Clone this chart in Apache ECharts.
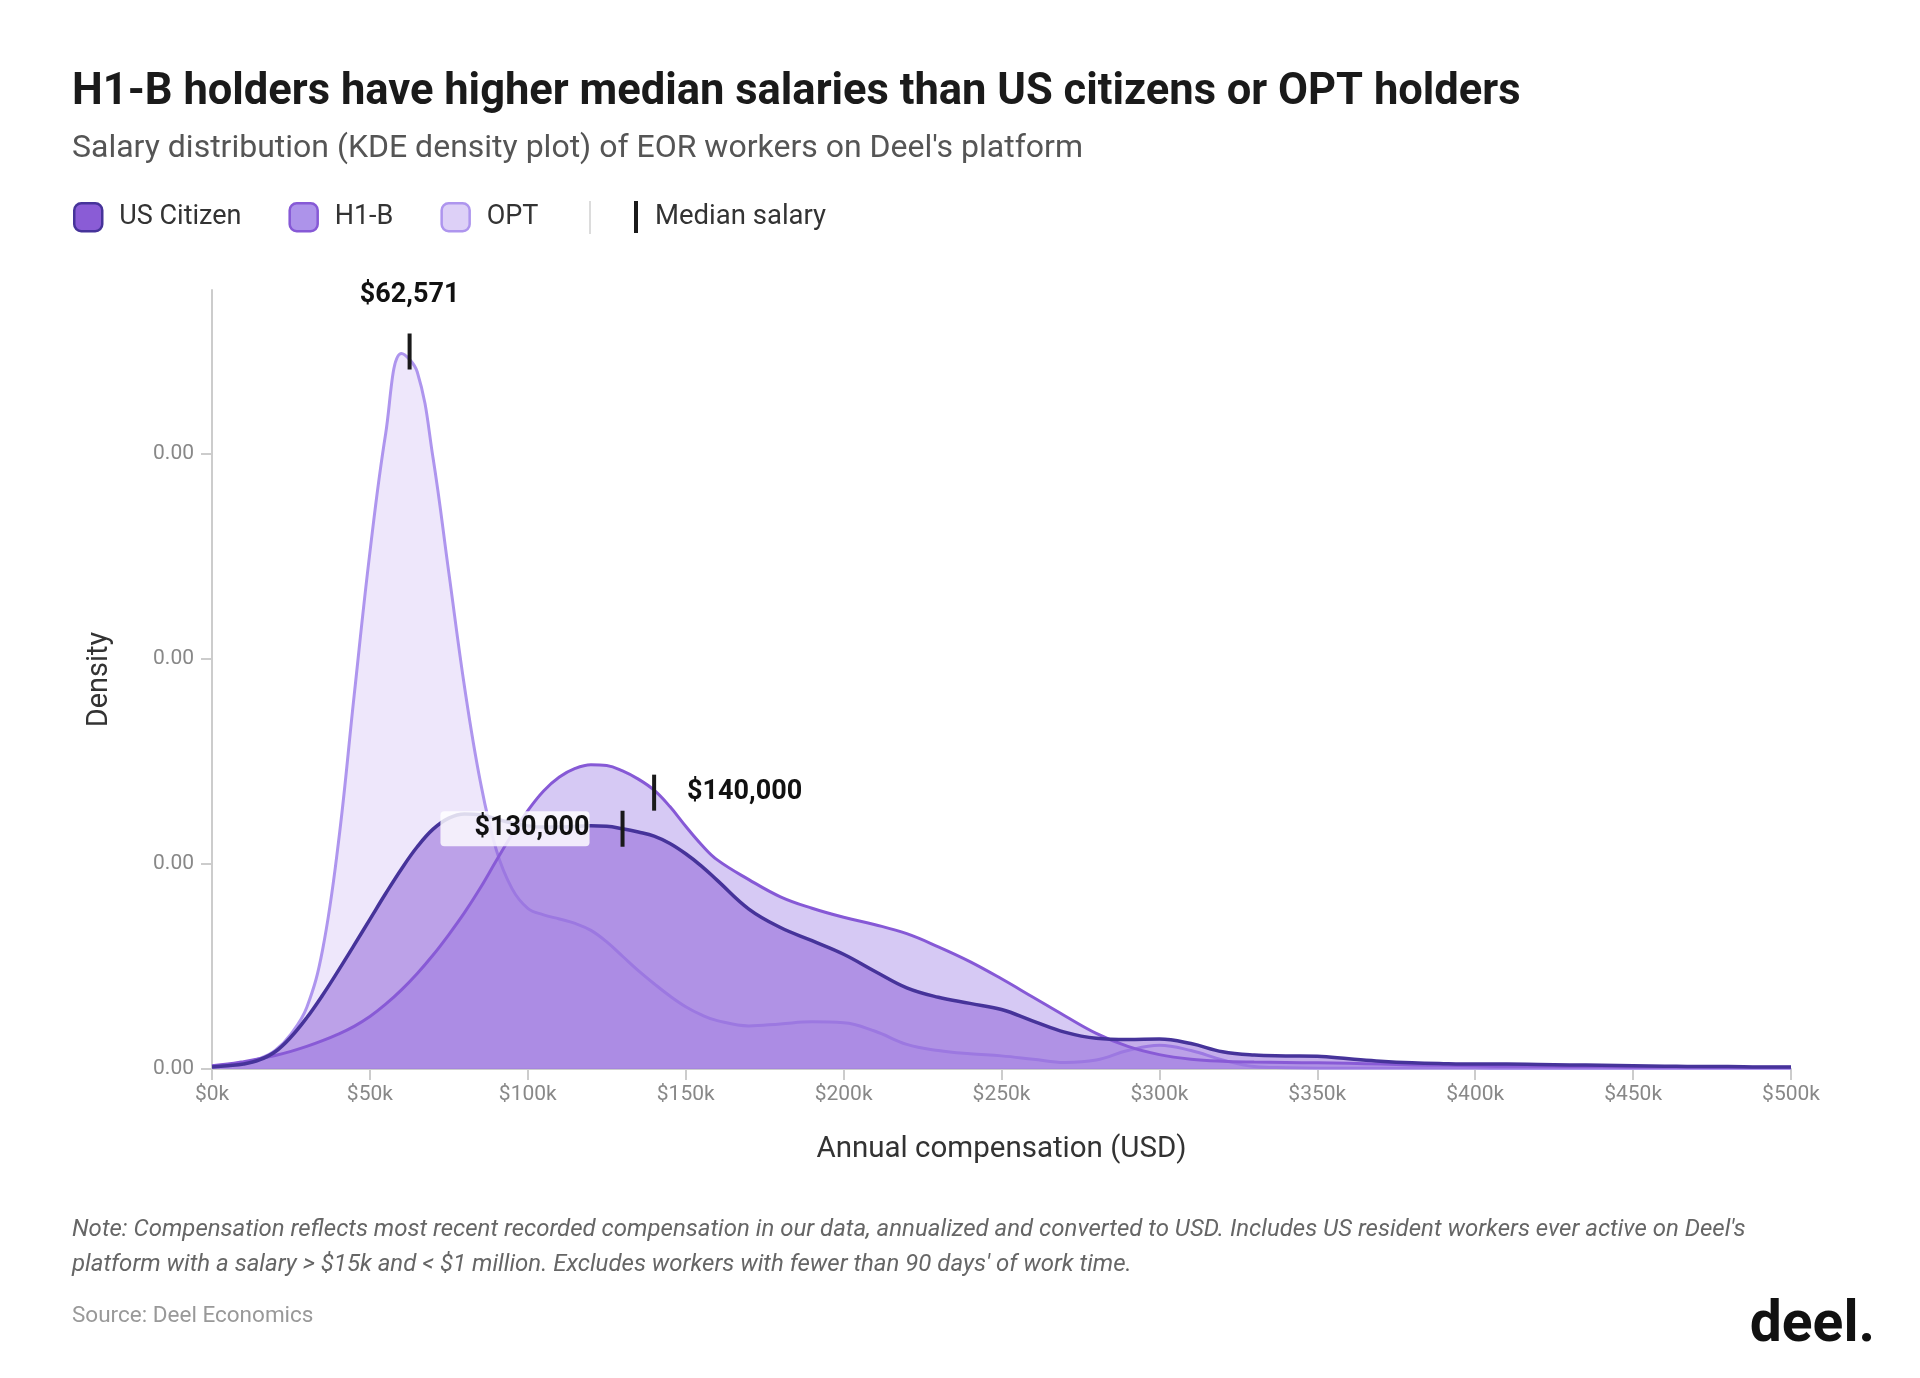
<!DOCTYPE html>
<html>
<head>
<meta charset="utf-8">
<title>H1-B salary distribution</title>
<script src="https://cdn.jsdelivr.net/npm/echarts/dist/echarts.min.js"></script>
<style>
  html, body { margin: 0; padding: 0; background: #fff; }
  #chart { width: 1920px; height: 1378px; }
</style>
</head>
<body>
<div id="chart"></div>
<script>
// annual compensation (USD) where the curves were read
const salary = [
  0, 5000, 10000, 15000, 20000, 25000, 30000, 35000, 40000, 45000,
  50000, 55000, 60000, 65000, 70000, 75000, 80000, 85000, 90000, 95000,
  100000, 105000, 110000, 115000, 120000, 125000, 130000, 135000, 140000, 145000,
  150000, 155000, 160000, 170000, 180000, 190000, 200000, 210000, 220000, 230000,
  240000, 250000, 260000, 270000, 280000, 290000, 300000, 310000, 320000, 330000,
  340000, 350000, 360000, 370000, 380000, 390000, 400000, 410000, 420000, 430000,
  440000, 450000, 460000, 470000, 480000, 490000, 500000
]

// KDE density, in units of 1e-6 per USD
const usCitizen = [
  0.05, 0.08, 0.12, 0.22, 0.42, 0.78, 1.25, 1.8, 2.4, 3.02,
  3.65, 4.28, 4.88, 5.42, 5.85, 6.12, 6.22, 6.2, 6.1, 6.0,
  5.93, 5.9, 5.9, 5.92, 5.93, 5.92, 5.86, 5.78, 5.68, 5.5,
  5.25, 4.95, 4.6, 3.9, 3.45, 3.13, 2.8, 2.38, 1.98, 1.75,
  1.6, 1.45, 1.17, 0.9, 0.75, 0.72, 0.73, 0.62, 0.42, 0.34,
  0.32, 0.31, 0.25, 0.19, 0.15, 0.13, 0.12, 0.12, 0.11, 0.1,
  0.09, 0.08, 0.07, 0.06, 0.06, 0.05, 0.05
]
const h1b = [
  0.08, 0.12, 0.18, 0.25, 0.33, 0.43, 0.55, 0.69, 0.85, 1.04,
  1.28, 1.58, 1.93, 2.33, 2.78, 3.28, 3.82, 4.42, 5.08, 5.72,
  6.3, 6.78, 7.12, 7.33, 7.42, 7.4, 7.27, 7.07, 6.8, 6.4,
  5.92, 5.47, 5.1, 4.62, 4.2, 3.92, 3.7, 3.52, 3.3, 2.98,
  2.62, 2.2, 1.75, 1.3, 0.87, 0.55, 0.35, 0.24, 0.19, 0.17,
  0.16, 0.15, 0.14, 0.12, 0.1, 0.09, 0.08, 0.07, 0.07, 0.06,
  0.06, 0.05, 0.05, 0.05, 0.04, 0.04, 0.04
]
const opt = [
  0.08, 0.1, 0.15, 0.25, 0.45, 0.85, 1.5, 2.9, 5.5, 9.1,
  12.6, 15.5, 17.45, 17.0, 14.9, 12.1, 9.3, 7.0, 5.35, 4.4,
  3.92, 3.76, 3.66, 3.55, 3.38, 3.1, 2.75, 2.4, 2.08, 1.78,
  1.52, 1.32, 1.18, 1.05, 1.1, 1.15, 1.13, 0.92, 0.6, 0.45,
  0.37, 0.32, 0.24, 0.16, 0.22, 0.45, 0.58, 0.45, 0.22, 0.06,
  0.03, 0.02, 0.02, 0.02, 0.02, 0.02, 0.02, 0.01, 0.01, 0.01,
  0.01, 0.01, 0.01, 0.01, 0.01, 0.01, 0.01
]

// median markers: US Citizen, H1-B, OPT
const medianSalary = [130000, 140000, 62571]
const medianDensity = [5.86, 6.74, 17.5]
const medianLabel = ['$130,000', '$140,000', '$62,571']

const xTicks = [0, 500000, 50000] // min, max, step
const yTicks = [0, 19, 5]

const pairs = (ys) => salary.map((x, i) => [x, ys[i]])
const FONT = 'Roboto, "Noto Sans", sans-serif'

const chart = echarts.init(document.getElementById('chart'))

// 中位数标签
const medianLabelStyle = [
  { position: 'left', distance: 31, backgroundColor: 'rgba(255,255,255,0.82)', borderRadius: 4, padding: [4, 0, 4, 34] },
  { position: 'right', distance: 31 },
  { position: 'top', distance: 25 }
]

chart.setOption({
  backgroundColor: '#fff',
  animation: false,
  title: [{
    text: 'H1-B holders have higher median salaries than US citizens or OPT holders',
    left: 72,
    top: 67,
    padding: 0,
    textStyle: { fontFamily: FONT, fontSize: 43.5, fontWeight: 'bold', color: '#1a1a1a', lineHeight: 52 }
  }, {
    text: 'Salary distribution (KDE density plot) of EOR workers on Deel\'s platform',
    left: 72,
    top: 129,
    padding: 0,
    textStyle: { fontFamily: FONT, fontSize: 32, fontWeight: 'normal', color: '#555', lineHeight: 40 }
  }, {
    text: 'Note: Compensation reflects most recent recorded compensation in our data, annualized and converted to USD. Includes US resident workers ever active on Deel\'s\nplatform with a salary > $15k and < $1 million. Excludes workers with fewer than 90 days\' of work time.',
    left: 72,
    top: 1212,
    padding: 0,
    textStyle: { fontFamily: FONT, fontSize: 24, fontStyle: 'italic', fontWeight: 'normal', color: '#666', lineHeight: 35.5 }
  }, {
    text: 'Source: Deel Economics',
    left: 72,
    top: 1302,
    padding: 0,
    textStyle: { fontFamily: FONT, fontSize: 22.5, fontWeight: 'normal', color: '#999', lineHeight: 28 }
  }, {
    text: 'deel.',
    right: 45,
    top: 1299,
    padding: 0,
    textStyle: { fontFamily: FONT, fontSize: 57, fontWeight: 'bold', color: '#111', lineHeight: 56 }
  }],
  legend: [{
    left: 73,
    top: 202,
    padding: 0,
    itemWidth: 28,
    itemHeight: 28,
    itemGap: 47,
    selectedMode: false,
    textStyle: { fontFamily: FONT, fontSize: 27, color: '#333', padding: [0, 0, 0, 12] },
    data: [
      { name: 'US Citizen', icon: 'roundRect', itemStyle: { color: '#8a5cd6', borderColor: '#46339a', borderWidth: 2.5 } },
      { name: 'H1-B', icon: 'roundRect', itemStyle: { color: '#ad93ea', borderColor: '#8659d6', borderWidth: 2.5 } },
      { name: 'OPT', icon: 'roundRect', itemStyle: { color: '#ddd0f7', borderColor: '#ae95ee', borderWidth: 2.5 } }
    ]
  }, {
    left: 634,
    top: 201,
    padding: 0,
    itemWidth: 4,
    itemHeight: 32,
    selectedMode: false,
    textStyle: { fontFamily: FONT, fontSize: 27.5, color: '#333', padding: [0, 0, 0, 12] },
    data: [{ name: 'Median salary', icon: 'rect', itemStyle: { color: '#1a1a1a', opacity: 1 } }]
  }],
  graphic: [{
    type: 'line',
    shape: { x1: 590, y1: 201, x2: 590, y2: 234 },
    style: { stroke: '#d0d0d0', lineWidth: 1.5 }
  }],
  grid: { left: 212, right: 129, top: 290, bottom: 309 },
  xAxis: {
    type: 'value',
    min: xTicks[0],
    max: xTicks[1],
    interval: xTicks[2],
    name: 'Annual compensation (USD)',
    nameLocation: 'middle',
    nameGap: 66,
    nameTextStyle: { fontFamily: FONT, fontSize: 29.5, color: '#333' },
    axisLine: { lineStyle: { color: '#ccc', width: 2 } },
    axisTick: { length: 11, lineStyle: { color: '#ccc', width: 2 } },
    axisLabel: {
      margin: 15,
      fontFamily: FONT,
      fontSize: 21,
      color: '#888',
      formatter: (v) => '$' + v / 1000 + 'k'
    },
    splitLine: { show: false }
  },
  yAxis: {
    type: 'value',
    min: yTicks[0],
    max: yTicks[1],
    interval: yTicks[2],
    name: 'Density',
    nameLocation: 'middle',
    nameGap: 98,
    nameTextStyle: { fontFamily: FONT, fontSize: 29, color: '#333' },
    axisLine: { show: true, lineStyle: { color: '#ccc', width: 2 } },
    axisTick: { show: true, length: 11, lineStyle: { color: '#ccc', width: 2 } },
    axisLabel: {
      margin: 18,
      fontFamily: FONT,
      fontSize: 21,
      color: '#888',
      showMaxLabel: false,
      formatter: (v) => (v / 1e6).toFixed(2)
    },
    splitLine: { show: false }
  },
  series: [{
    name: 'OPT',
    type: 'line',
    smooth: 0.4,
    showSymbol: false,
    z: 1,
    lineStyle: { color: '#ae95ee', width: 3 },
    itemStyle: { color: '#ddd0f7' },
    areaStyle: { color: '#ddd0f7', opacity: 0.5 },
    data: pairs(opt)
  }, {
    name: 'H1-B',
    type: 'line',
    smooth: 0.4,
    showSymbol: false,
    z: 2,
    lineStyle: { color: '#8659d6', width: 3 },
    itemStyle: { color: '#ad93ea' },
    areaStyle: { color: '#ad93ea', opacity: 0.5 },
    data: pairs(h1b)
  }, {
    name: 'US Citizen',
    type: 'line',
    smooth: 0.4,
    showSymbol: false,
    z: 3,
    lineStyle: { color: '#46339a', width: 3.5 },
    itemStyle: { color: '#8a5cd6' },
    areaStyle: { color: '#8a5cd6', opacity: 0.5 },
    data: pairs(usCitizen)
  }, {
    name: 'Median salary',
    type: 'scatter',
    z: 10,
    symbol: 'rect',
    symbolSize: [4, 36],
    itemStyle: { color: '#1a1a1a', opacity: 1 },
    label: {
      show: true,
      fontFamily: FONT,
      fontSize: 27,
      fontWeight: 'bold',
      color: '#111'
    },
    data: medianSalary.map((x, i) => ({
      value: [x, medianDensity[i]],
      label: Object.assign({ formatter: medianLabel[i] }, medianLabelStyle[i])
    }))
  }]
})
</script>
</body>
</html>
